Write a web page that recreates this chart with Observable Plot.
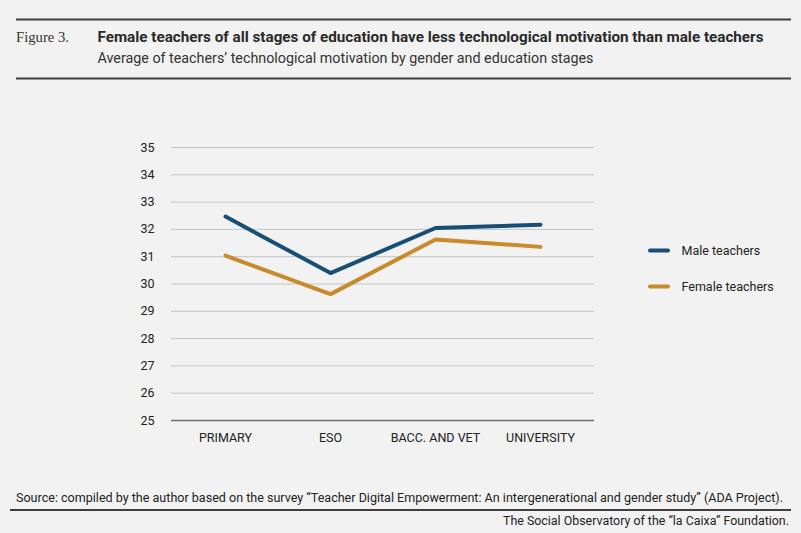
<!DOCTYPE html>
<html>
<head>
<meta charset="utf-8">
<script src="https://cdn.jsdelivr.net/npm/d3@7"></script>
<script src="https://cdn.jsdelivr.net/npm/@observablehq/plot@0.6"></script>
<style>
  html, body { margin: 0; padding: 0; background: #f2f2f2; }
  #page { position: relative; width: 801px; height: 533px; background: #f2f2f2; overflow: hidden; }
  #chart { position: absolute; left: 0; top: 90px; }
  #overlay { position: absolute; left: 0; top: 0; }
</style>
</head>
<body>
<div id="page">
  <div id="chart"></div>
  <svg id="overlay" width="801" height="533"></svg>
</div>
<script>
const stages = ["PRIMARY", "ESO", "BACC. AND VET", "UNIVERSITY"];
const seriesNames = ["Male teachers", "Female teachers"];
const seriesColors = ["#174e77", "#c88a2a"];
const maleValues = [32.47, 30.4, 32.05, 32.17];
const femaleValues = [31.04, 29.63, 31.63, 31.36];
const yTicks = [25, 26, 27, 28, 29, 30, 31, 32, 33, 34, 35];

const figureLabel = "Figure 3.";
const titleText = "Female teachers of all stages of education have less technological motivation than male teachers";
const subtitleText = "Average of teachers’ technological motivation by gender and education stages";
const sourceText = "Source: compiled by the author based on the survey “Teacher Digital Empowerment: An intergenerational and gender study” (ADA Project).";
const footerText = "The Social Observatory of the “la Caixa” Foundation.";

const rows = [];
stages.forEach((s, i) => {
  rows.push({stage: s, series: seriesNames[0], value: maleValues[i]});
  rows.push({stage: s, series: seriesNames[1], value: femaleValues[i]});
});

const chart = Plot.plot({
  width: 801,
  height: 380,
  marginLeft: 171,
  marginRight: 207,
  marginTop: 57,
  marginBottom: 50,
  style: {background: "transparent", fontFamily: "Roboto, sans-serif", fontSize: "12.5px", color: "#222"},
  x: {type: "point", domain: stages, padding: 0.5, label: null, tickSize: 0, tickPadding: 13},
  y: {domain: [25, 35], ticks: yTicks, label: null, tickSize: 0, tickPadding: 17},
  color: {domain: seriesNames, range: seriesColors},
  marks: [
    Plot.ruleY(yTicks.filter(d => d !== 25), {stroke: "#c4c4c4", strokeWidth: 1}),
    Plot.ruleY([25], {stroke: "#6e6e6e", strokeWidth: 1.3}),
    Plot.line(rows, {x: "stage", y: "value", z: "series", stroke: "series", strokeWidth: 4, strokeLinejoin: "round", strokeLinecap: "round"}),
    Plot.axisX({tickSize: 0, tickPadding: 13, fill: "#222"}),
    Plot.axisY({ticks: yTicks, tickSize: 0, tickPadding: 17, fill: "#222"})
  ]
});
document.getElementById("chart").appendChild(chart);

// Header, footer and legend
const ov = d3.select("#overlay");
const ruleColor = "#3f3f3f";
ov.append("line").attr("x1", 16).attr("x2", 791).attr("y1", 19.5).attr("y2", 19.5).attr("stroke", ruleColor).attr("stroke-width", 2);
ov.append("line").attr("x1", 16).attr("x2", 791).attr("y1", 78.5).attr("y2", 78.5).attr("stroke", ruleColor).attr("stroke-width", 2);
ov.append("line").attr("x1", 10).attr("x2", 791).attr("y1", 510).attr("y2", 510).attr("stroke", ruleColor).attr("stroke-width", 2);

function txt(s, x, y, len, opts) {
  const t = ov.append("text").attr("x", x).attr("y", y).text(s)
    .attr("font-family", opts.family || "Roboto, sans-serif")
    .attr("font-size", opts.size || 14)
    .attr("font-weight", opts.weight || 400)
    .attr("fill", opts.fill || "#2a2a2a");
  if (opts.anchor) t.attr("text-anchor", opts.anchor);
  if (len) t.attr("textLength", len).attr("lengthAdjust", "spacingAndGlyphs");
  return t;
}
txt(figureLabel, 16, 41.5, 53, {family: "'Liberation Serif', serif", size: 15.5, weight: 400, fill: "#333"});
txt(titleText, 97.5, 41.5, 666, {size: 14.5, weight: 700, fill: "#2a2a2a"});
txt(subtitleText, 97.5, 63, 496, {size: 14.5, weight: 400, fill: "#333"});
txt(sourceText, 16, 501.5, 767, {size: 12.5, weight: 400, fill: "#222"});
txt(footerText, 503, 525, 286, {size: 12.5, weight: 400, fill: "#222"});

// Legend
const legendY = [250.5, 286.5];
seriesNames.forEach((name, i) => {
  ov.append("line").attr("x1", 650).attr("x2", 668).attr("y1", legendY[i]).attr("y2", legendY[i])
    .attr("stroke", seriesColors[i]).attr("stroke-width", 4).attr("stroke-linecap", "round");
  txt(name, 681.5, legendY[i] + 4.5, null, {size: 12.5, fill: "#222"});
});
</script>
</body>
</html>
